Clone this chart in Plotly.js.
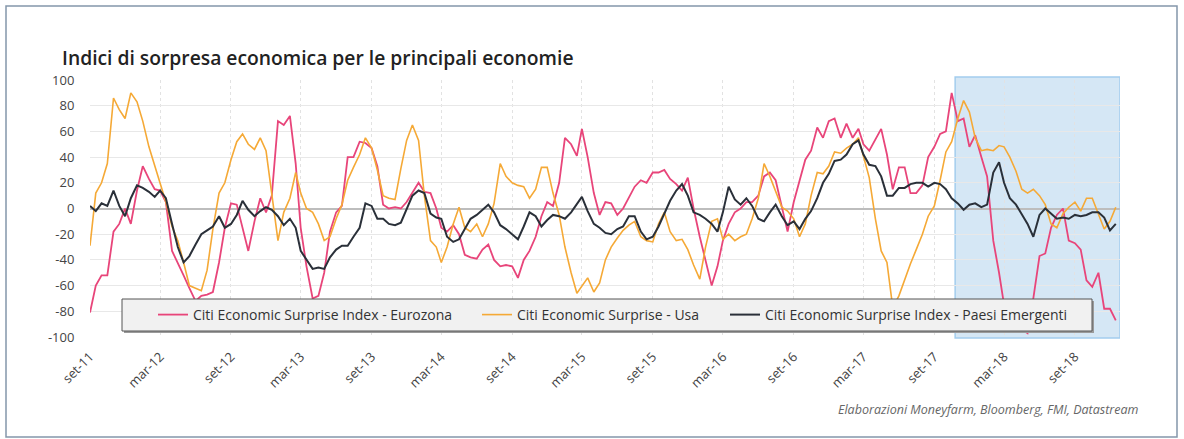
<!DOCTYPE html>
<html>
<head>
<meta charset="utf-8">
<script src="https://cdn.plot.ly/plotly-3.0.1.min.js"></script>
<style>
html,body{margin:0;padding:0;background:#fff;}
#chart{width:1184px;height:439px;}
</style>
</head>
<body>
<div id="chart"></div>
<script>
// Semi-monthly observations starting 1 Sep 2011 (1st and 16th of each month)
const startYear = 2011;
const startMonth = 9;

const eurozona = [
  -81, -60, -52, -52, -18, -12, 0, -12, 14, 33, 23, 15,
  14, 5, -33, -42, -52, -62, -72, -68, -67, -65, -42, -15,
  4, 3, -15, -33, -10, 8, -3, 10, 68, 65, 72, 35,
  -15, -45, -70, -68, -50, -18, -3, 2, 40, 40, 52, 51,
  47, 33, 3, 0, 1, 0, 5, 12, 20, 13, 12, 0,
  -15, -18, -13, -20, -36, -38, -39, -32, -28, -40, -45, -44,
  -45, -54, -40, -33, -22, -6, 5, 2, 20, 55, 50, 41,
  62, 40, 12, -5, 5, 4, -5, 0, 8, 17, 22, 20,
  28, 28, 30, 23, 19, 14, 24, 0, -22, -40, -60, -45,
  -25, -12, -3, 0, 5, 5, 10, 25, 28, 22, 0, -18,
  5, 22, 38, 45, 63, 55, 68, 70, 55, 66, 55, 62,
  50, 45, 54, 62, 42, 15, 32, 32, 12, 12, 18, 40,
  48, 58, 60, 90, 68, 70, 48, 57, 40, 25, -25, -50,
  -75, -90, -95, -94, -97, -70, -37, -35, -15, -5, 0, -25,
  -27, -32, -56, -61, -50, -78, -78, -87
];

const usa = [
  -29, 12, 20, 35, 86, 77, 70, 90, 83, 68, 48, 33,
  20, 5, -14, -25, -42, -60, -62, -64, -48, -16, 12, 20,
  38, 52, 58, 50, 46, 55, 45, 12, -25, -3, 8, 28,
  12, 0, -3, -12, -25, -22, -8, 3, 22, 32, 42, 55,
  47, 30, 10, 8, 7, 31, 53, 65, 53, 10, -25, -30,
  -42, -30, -12, 1, -15, -18, -12, -22, -12, 4, 35, 25,
  20, 18, 17, 8, 15, 32, 32, 12, -5, -30, -50, -66,
  -60, -54, -65, -58, -40, -30, -23, -17, -13, -10, -22, -25,
  -26, -12, -3, -18, -25, -24, -32, -44, -55, -30, -10, -8,
  -24, -20, -25, -22, -20, -8, 8, 35, 25, 14, 1, -2,
  -8, -22, -12, 10, 28, 27, 33, 44, 43, 47, 50, 55,
  40, 24, -8, -33, -42, -77, -68, -55, -43, -32, -20, -6,
  2, 22, 44, 52, 70, 84, 75, 55, 45, 46, 45, 49,
  48, 40, 29, 15, 12, 15, 10, 3, -12, -15, -4, 1,
  5, -2, 8, 8, -4, -16, -10, 1
];

const emergenti = [
  2, -2, 4, 2, 14, 2, -6, 8, 18, 16, 13, 9,
  14, 8, -12, -30, -42, -37, -28, -20, -17, -14, -6, -15,
  -12, -5, 6, -1, -6, -2, 1, -1, -6, -13, -8, -15,
  -33, -40, -47, -46, -47, -38, -32, -29, -29, -22, -15, 4,
  2, -8, -8, -12, -13, -11, 0, 10, 14, 12, -4, -7,
  -8, -22, -26, -24, -16, -8, -5, -1, 3, -3, -13, -16,
  -20, -24, -14, -3, -6, -14, -9, -5, -6, -8, -3, 3,
  9, -2, -12, -15, -19, -20, -16, -14, -6, -6, -18, -24,
  -22, -14, -4, 6, 14, 19, 10, -3, -5, -8, -12, -18,
  -3, 17, 7, 3, 8, 2, -8, -10, -3, 3, -6, -13,
  -10, -16, -8, -2, 8, 20, 27, 37, 38, 42, 50, 53,
  42, 34, 33, 25, 10, 10, 16, 16, 19, 20, 20, 17,
  20, 19, 15, 8, 4, -1, 3, 4, 1, 3, 28, 36,
  20, 8, 3, -5, -12, -22, -5, 0, -4, -8, -7, -8,
  -5, -6, -5, -3, -3, -7, -17, -12
];

const seriesNames = [
  'Citi Economic Surprise Index - Eurozona',
  'Citi Economic Surprise - Usa',
  'Citi Economic Surprise Index - Paesi Emergenti'
];

const tickVals = ['2011-09-01','2012-03-01','2012-09-01','2013-03-01','2013-09-01',
  '2014-03-01','2014-09-01','2015-03-01','2015-09-01','2016-03-01','2016-09-01',
  '2017-03-01','2017-09-01','2018-03-01','2018-09-01'];
const tickText = ['set-11','mar-12','set-12','mar-13','set-13','mar-14','set-14',
  'mar-15','set-15','mar-16','set-16','mar-17','set-17','mar-18','set-18'];
const yTicks = [-100, -80, -60, -40, -20, 0, 20, 40, 60, 80, 100];
const yTickText = ['-100', '-80', '-60', '-40', '-20', '0', '20', '40', '60', '80', '100'];

// highlighted period and visible date window
const highlightStart = '2017-10-25';
const xStart = '2011-09-01';
const xEnd = '2018-12-27';

function dateAt(i) {
  const k = Math.floor(i / 2);
  const mIdx = startMonth - 1 + k;
  const y = startYear + Math.floor(mIdx / 12);
  const m = (mIdx % 12) + 1;
  return y + '-' + String(m).padStart(2, '0') + '-' + (i % 2 ? '16' : '01');
}
const dates = eurozona.map((_, i) => dateAt(i));

// pixel -> paper helpers (plot area 90..1120 x, 80..337 y)
const PL = 90, PR = 1120, PT = 80, PB = 337;
const px = v => (v - PL) / (PR - PL);
const py = v => (PB - v) / (PB - PT);

const FONT = 'Open Sans, Lato, sans-serif';

const traces = [
  {x: dates, y: eurozona, name: seriesNames[0], type: 'scatter', mode: 'lines',
   legend: 'legend', line: {color: '#e8457a', width: 1.8}},
  {x: dates, y: usa, name: seriesNames[1], type: 'scatter', mode: 'lines',
   legend: 'legend2', line: {color: '#f5a936', width: 1.6}},
  {x: dates, y: emergenti, name: seriesNames[2], type: 'scatter', mode: 'lines',
   legend: 'legend3', line: {color: '#2a3039', width: 2}}
];

function legendAt(xPix) {
  return {
    orientation: 'h',
    x: px(xPix), xanchor: 'left',
    y: py(315), yanchor: 'middle',
    bgcolor: 'rgba(0,0,0,0)', borderwidth: 0,
    font: {family: FONT, size: 14, color: '#333'},
    itemclick: false, itemdoubleclick: false
  };
}

const layout = {
  width: 1184, height: 439,
  margin: {l: PL, r: 1184 - PR, t: PT, b: 439 - PB, pad: 0},
  paper_bgcolor: '#ffffff', plot_bgcolor: '#ffffff',
  showlegend: true,
  hovermode: false,
  title: {
    text: 'Indici di sorpresa economica per le principali economie',
    font: {family: FONT, size: 19.3, weight: 600, color: '#222'},
    x: 62 / 1184, xanchor: 'left', xref: 'container',
    y: 1 - 58 / 439, yanchor: 'middle', yref: 'container'
  },
  xaxis: {
    type: 'date',
    range: [xStart, xEnd],
    tickmode: 'array', tickvals: tickVals, ticktext: tickText,
    tickangle: -45,
    ticks: 'outside', ticklen: 6, tickcolor: 'rgba(0,0,0,0)',
    tickfont: {family: FONT, size: 13, color: '#444'},
    showgrid: true, gridcolor: '#e2e2e2', griddash: 'dot', gridwidth: 1,
    showline: false, zeroline: false, fixedrange: true
  },
  yaxis: {
    range: [-100, 100],
    tickmode: 'array', tickvals: yTicks, ticktext: yTickText,
    ticks: 'outside', ticklen: 12, tickcolor: 'rgba(0,0,0,0)',
    tickfont: {family: FONT, size: 13, color: '#444'},
    showgrid: true, gridcolor: '#e8e8e8', gridwidth: 1,
    zeroline: true, zerolinecolor: '#bdbdbd', zerolinewidth: 2,
    showline: false, fixedrange: true
  },
  legend: legendAt(153),
  legend2: legendAt(477),
  legend3: legendAt(725),
  shapes: [
    {type: 'rect', xref: 'paper', yref: 'paper', layer: 'below',
     x0: px(6), x1: px(1177), y0: py(437), y1: py(6),
     line: {color: '#8497ab', width: 1.5}, fillcolor: 'rgba(0,0,0,0)'},
    {type: 'rect', xref: 'x', yref: 'paper', layer: 'below',
     x0: highlightStart, x1: xEnd, y0: py(338), y1: py(77),
     fillcolor: '#d5e7f5', line: {color: '#a3cdee', width: 1.5}},
    {type: 'rect', xref: 'paper', yref: 'paper', layer: 'above',
     x0: px(124), x1: px(1094), y0: py(333), y1: py(301),
     fillcolor: '#9a9a9a', line: {width: 0}},
    {type: 'rect', xref: 'paper', yref: 'paper', layer: 'above',
     x0: px(122), x1: px(1092), y0: py(331), y1: py(299),
     fillcolor: '#f1f1f1', line: {color: '#555', width: 1}}
  ],
  annotations: [
    {text: 'Elaborazioni Moneyfarm, Bloomberg, FMI, Datastream',
     xref: 'paper', yref: 'paper', x: px(1140), xanchor: 'right',
     y: py(409), yanchor: 'middle', showarrow: false,
     font: {family: FONT, size: 12.5, color: '#666', style: 'italic'}}
  ]
};

Plotly.newPlot('chart', traces, layout, {displayModeBar: false, staticPlot: true});
</script>
</body>
</html>
